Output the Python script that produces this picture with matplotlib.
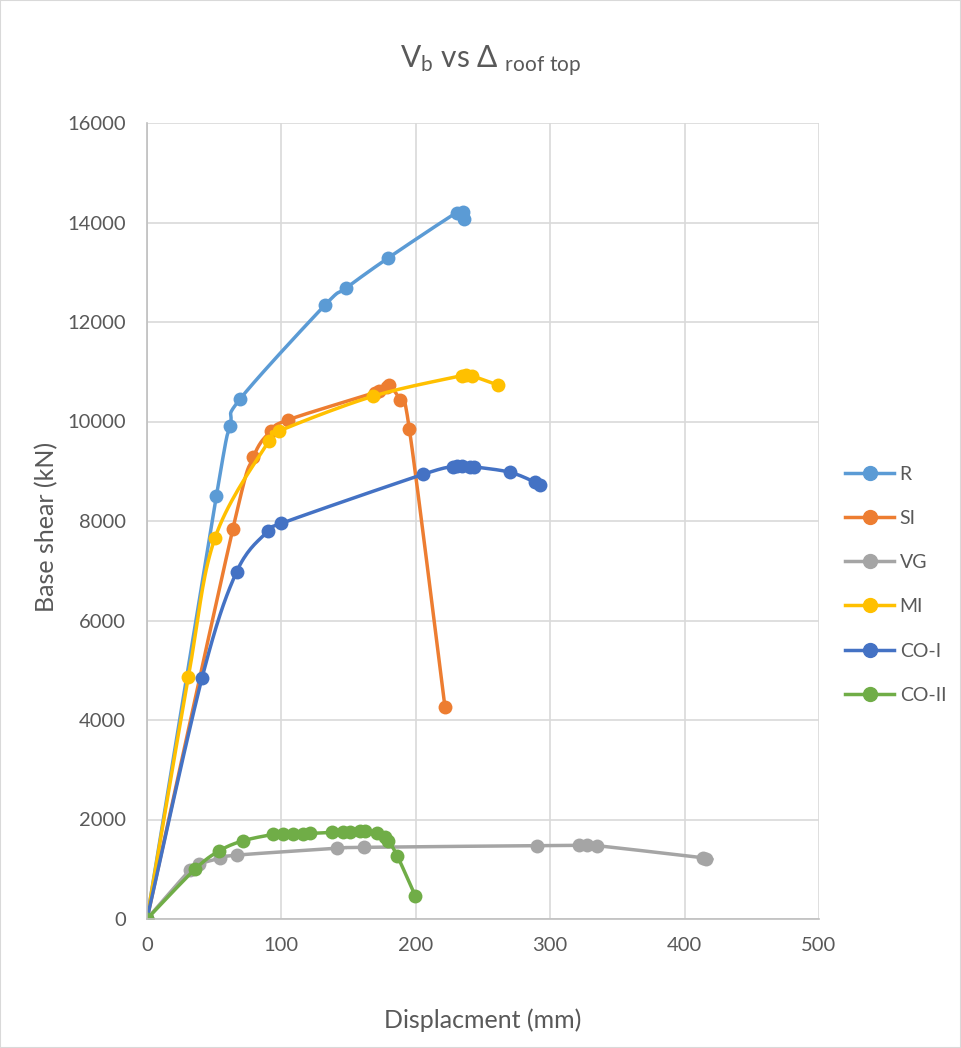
import numpy as np
from matplotlib import pyplot as plt
from matplotlib.patches import Rectangle

plt.rcParams['font.family'] = ['Lato', 'DejaVu Sans']
plt.rcParams['mathtext.fontset'] = 'custom'
plt.rcParams['mathtext.rm'] = 'Lato'
plt.rcParams['mathtext.it'] = 'Lato'

# data (displacement mm, base shear kN)
r_x = [0, 51.6, 61.8, 69.2, 132.4, 148.0, 179.6, 230.4, 235.4, 235.9]
r_y = [0, 8500, 9910, 10450, 12340, 12680, 13290, 14200, 14210, 14070]

si_x = [0, 63.8, 79.1, 92.0, 104.7, 169.6, 172.5, 178.3, 180.3, 188.2, 195.2, 221.7]
si_y = [0, 7830, 9280, 9800, 10030, 10580, 10620, 10700, 10730, 10430, 9850, 4260]

vg_x = [0, 32.0, 38.9, 54.3, 67.2, 141.1, 161.5, 290.0, 321.7, 327.2, 334.6, 413.9, 416.0]
vg_y = [0, 985, 1105, 1220, 1285, 1420, 1440, 1475, 1480, 1480, 1475, 1230, 1205]

mi_x = [0, 30.8, 50.6, 90.8, 98.5, 168.4, 234.1, 237.5, 241.5, 261.4]
mi_y = [0, 4870, 7660, 9610, 9810, 10510, 10920, 10930, 10920, 10730]

co1_x = [0, 40.9, 66.7, 89.8, 99.7, 205.6, 227.9, 231.0, 234.1, 240.4, 243.3, 270.0, 288.7, 292.4]
co1_y = [0, 4840, 6980, 7790, 7950, 8940, 9090, 9100, 9100, 9090, 9090, 8980, 8780, 8720]

co2_x = [0, 35.7, 53.8, 71.2, 94.0, 101.4, 108.9, 116.3, 121.3, 137.4, 146.0, 151.0,
         158.5, 162.2, 170.9, 177.0, 179.6, 186.2, 199.7]
co2_y = [0, 1000, 1370, 1570, 1700, 1705, 1710, 1715, 1720, 1740, 1750, 1755,
         1770, 1770, 1730, 1640, 1570, 1270, 460]

series = [
    ('R', r_x, r_y, '#5B9BD5'),
    ('SI', si_x, si_y, '#ED7D31'),
    ('VG', vg_x, vg_y, '#A5A5A5'),
    ('MI', mi_x, mi_y, '#FFC000'),
    ('CO-I', co1_x, co1_y, '#4472C4'),
    ('CO-II', co2_x, co2_y, '#70AD47'),
]


def smooth(xs, ys, sx=672 / 500, sy=796 / 16000, n=20):
    # excel-like bezier smoothing, done in screen space
    p = np.column_stack([np.array(xs) * sx, np.array(ys) * sy])
    out = [p[0]]
    for i in range(len(p) - 1):
        p0 = p[i - 1] if i > 0 else p[i]
        p1, p2 = p[i], p[i + 1]
        p3 = p[i + 2] if i + 2 < len(p) else p[i + 1]
        c1 = p1 + (p2 - p0) / 6
        c2 = p2 - (p3 - p1) / 6
        t = np.linspace(0, 1, n)[1:, None]
        seg = (1 - t) ** 3 * p1 + 3 * (1 - t) ** 2 * t * c1 + 3 * (1 - t) * t ** 2 * c2 + t ** 3 * p2
        out.extend(seg)
    out = np.array(out)
    return out[:, 0] / sx, out[:, 1] / sy


fig = plt.figure(figsize=[9.61, 10.48], dpi=100)
ax = fig.add_axes([147 / 961, 129 / 1048, 672 / 961, 796 / 1048])

for name, xs, ys, col in series:
    lx, ly = smooth(xs, ys)
    ax.plot(lx, ly, color=col, lw=2.5, solid_capstyle='round')
    ax.plot(xs, ys, 'o', color=col, ms=10, markeredgewidth=0)
    ax.plot([], [], '-o', color=col, lw=2.5, ms=10, label=name)

ax.set_xlim(0, 500)
ax.set_ylim(0, 16000)
ax.set_xticks(range(0, 501, 100))
ax.set_yticks(range(0, 16001, 2000))
ax.grid(color='#d9d9d9', lw=1.2)
ax.set_axisbelow(True)
for s in ['top', 'right']:
    ax.spines[s].set_visible(False)
for s in ['left', 'bottom']:
    ax.spines[s].set_color('#bfbfbf')
    ax.spines[s].set_linewidth(1.2)
ax.tick_params(length=0, labelsize=14.5, colors='#595959')
ax.tick_params(axis='y', pad=15)
ax.tick_params(axis='x', pad=13)

fig.text(483 / 961, 1 - 1020 / 1048, 'Displacment (mm)', ha='center', va='center',
         fontsize=18, color='#595959')
fig.text(47 / 961, 1 - 527 / 1048, 'Base shear (kN)', ha='center', va='center',
         rotation=90, fontsize=18, color='#595959')
fig.text(491 / 961, 1 - 61 / 1048, r'V$_\mathregular{b}$ vs $\Delta$ $_\mathregular{roof\ top}$',
         ha='center', va='center', fontsize=21.5, color='#595959')

ax.legend(loc='center left', bbox_to_anchor=(1.013, 0.42), frameon=False, fontsize=14,
          labelcolor='#595959', handlelength=2.5, labelspacing=1.4, handletextpad=0.3)

fig.patches.append(Rectangle((0, 0), 1, 1, transform=fig.transFigure, fill=False,
                             edgecolor='#d9d9d9', lw=1.5))

plt.savefig('out.png')
